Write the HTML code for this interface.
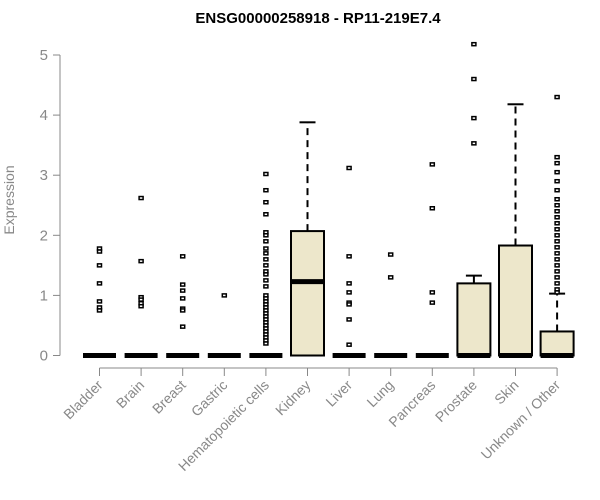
<!DOCTYPE html>
<html><head><meta charset="utf-8"><style>
body{margin:0;background:#fff}
svg{display:block;font-family:"Liberation Sans",Arial,sans-serif}
</style></head><body>
<svg id="c" width="600" height="500" viewBox="0 0 600 500">
<text x="318" y="23" text-anchor="middle" font-weight="bold" font-size="15">ENSG00000258918 - RP11-219E7.4</text>
<text transform="translate(14,200) rotate(-90)" text-anchor="middle" font-size="14" fill="#888">Expression</text>
<g id="plot"></g>
</svg>
<script>
const categories=["Bladder","Brain","Breast","Gastric","Hematopoietic cells","Kidney","Liver","Lung","Pancreas","Prostate","Skin","Unknown / Other"];
const q1=[0,0,0,0,0,0,0,0,0,0,0,0];
const medians=[0,0,0,0,0,1.23,0,0,0,0,0,0];
const q3=[0,0,0,0,0,2.07,0,0,0,1.2,1.83,0.4];
const whiskerHigh=[0,0,0,0,0,3.88,0,0,0,1.33,4.18,1.03];
const outliers=[
[1.78,1.73,1.5,1.2,0.9,0.8,0.75],
[2.62,1.57,0.97,0.93,0.87,0.82],
[1.65,1.18,1.08,0.95,0.78,0.75,0.48],
[1.0],
[3.02,2.75,2.55,2.35,2.05,2.0,1.9,1.78,1.7,1.6,1.5,1.4,1.35,1.25,1.15,1.0,0.95,0.9,0.85,0.8,0.75,0.7,0.65,0.6,0.55,0.5,0.45,0.4,0.35,0.3,0.25,0.2],
[],
[3.12,1.65,1.2,1.05,0.88,0.85,0.6,0.18],
[1.68,1.3],
[3.18,2.45,1.05,0.88],
[5.18,4.6,3.95,3.53],
[],
[4.3,3.3,3.2,3.05,2.9,2.75,2.6,2.5,2.4,2.3,2.2,2.1,2.0,1.9,1.8,1.7,1.6,1.5,1.4,1.3,1.2,1.1,1.05]
];
const yTicks=[0,1,2,3,4,5];
const NS="http://www.w3.org/2000/svg";
const g=document.getElementById('plot');
const y=v=>355.5-v*60.1;
const x=i=>99.5+i*41.6;
function mk(t,a){const e=document.createElementNS(NS,t);for(const k in a)e.setAttribute(k,a[k]);g.appendChild(e);return e;}
let e=mk('line',{x1:60,x2:60,y1:y(0),y2:y(5),stroke:'#888'});


yTicks.forEach(t=>{
 let l=mk('line',{x1:53,x2:60,y1:y(t),y2:y(t),stroke:'#888'});
 
 
 let tx=mk('text',{x:48,y:y(t)+5,'text-anchor':'end','font-size':15,fill:'#888'});
 tx.textContent=t;
 
 
});
e=mk('line',{x1:x(0),x2:x(categories.length-1),y1:368,y2:368,stroke:'#888'});


categories.forEach((c,i)=>{
 const cx=x(i),w=16.5;
 let l=mk('line',{x1:cx,x2:cx,y1:368,y2:376,stroke:'#888'});
 
 
 let t=mk('text',{x:0,y:0,'text-anchor':'end','font-size':14,fill:'#888',transform:`translate(${cx+4},${386}) rotate(-45)`});
 t.textContent=c;
 
 
 if(whiskerHigh[i]>q3[i]){
  let wl=mk('line',{x1:cx,x2:cx,y1:y(q3[i]),y2:y(whiskerHigh[i]),stroke:'#000','stroke-width':2,'stroke-dasharray':'7,5'});
  
  
  let wc=mk('line',{x1:cx-8,x2:cx+8,y1:y(whiskerHigh[i]),y2:y(whiskerHigh[i]),stroke:'#000','stroke-width':2});
  
  
 }
 if(q3[i]>q1[i]){
  let b=mk('rect',{x:cx-w,y:y(q3[i]),width:2*w,height:y(q1[i])-y(q3[i]),fill:'#ede7cb',stroke:'#000','stroke-width':2});
  
  
 }
 let m=mk('line',{x1:cx-w,x2:cx+w,y1:y(medians[i]),y2:y(medians[i]),stroke:'#000','stroke-width':5});
 
 
 outliers[i].forEach(v=>{
  let p=mk('rect',{x:cx-2,y:y(v)-1.5,width:4,height:3,fill:'#fff',stroke:'#000','stroke-width':1.5});
  
  
 });
});
</script>
</body></html>
